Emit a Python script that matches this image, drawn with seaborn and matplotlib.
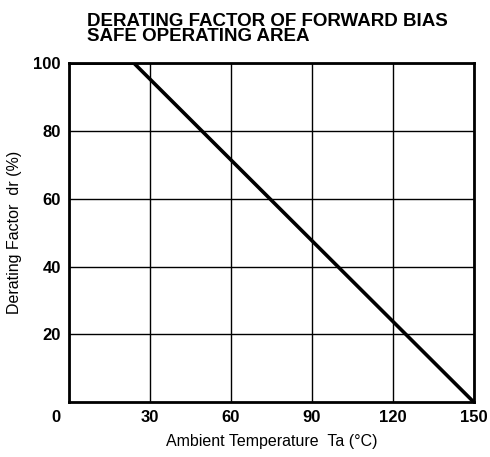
import matplotlib
matplotlib.use("Agg")
import matplotlib.pyplot as plt
import matplotlib.transforms as mtransforms
import seaborn as sns
import pandas as pd

# derating curve
temp = [0, 24, 150]
factor = [100, 100, 0]
xticks = [0, 30, 60, 90, 120, 150]
yticks = [20, 40, 60, 80, 100]

sns.set_style("white")
plt.rcParams['font.family'] = ['Liberation Sans', 'DejaVu Sans']
plt.rcParams['text.color'] = 'black'
plt.rcParams['axes.labelcolor'] = 'black'
plt.rcParams['xtick.color'] = 'black'
plt.rcParams['ytick.color'] = 'black'

df = pd.DataFrame({"Ta": temp, "dr": factor})

fig = plt.figure(figsize=(4.9, 4.57), dpi=100)
ax = fig.add_axes([0.141, 0.120, 0.826, 0.742])

sns.lineplot(data=df, x="Ta", y="dr", color="black", linewidth=2.6, ax=ax)

ax.set_xlim(0, 150)
ax.set_ylim(0, 100)
ax.set_xticks(xticks)
ax.set_yticks(yticks)
ax.set_xticklabels([str(t) for t in xticks], fontsize=12, fontweight="bold")
ax.set_yticklabels([str(t) for t in yticks], fontsize=12, fontweight="bold")
ax.tick_params(length=0, pad=6)
# origin label sits a bit to the left
off = mtransforms.ScaledTranslation(-13 / 100, 0, fig.dpi_scale_trans)
lbl0 = ax.get_xticklabels()[0]
lbl0.set_transform(lbl0.get_transform() + off)

ax.grid(True, color="black", linewidth=1.0)
for s in ax.spines.values():
    s.set_color("black")
    s.set_linewidth(2.0)

ax.set_xlabel("Ambient Temperature  Ta (°C)", fontsize=11.5, labelpad=6)
ax.set_ylabel("Derating Factor  dr (%)", fontsize=11.5, labelpad=8)

fig.text(0.178, 0.972, "DERATING FACTOR OF FORWARD BIAS\nSAFE OPERATING AREA",
         ha="left", va="top", fontsize=13.5, fontweight="bold", linespacing=0.9)

fig.savefig("out.png", dpi=100, facecolor="white")
